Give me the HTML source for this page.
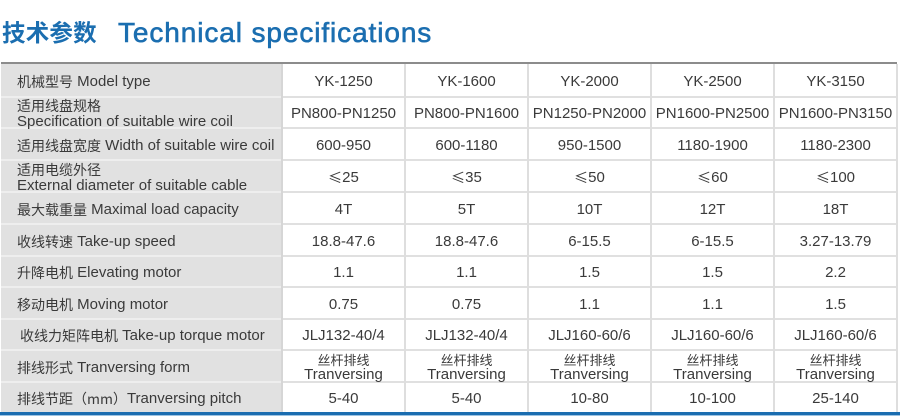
<!DOCTYPE html>
<html>
<head>
<meta charset="utf-8">
<style>
html,body{margin:0;padding:0;background:#fff;}
body{width:900px;height:418px;position:relative;overflow:hidden;font-family:"Liberation Sans","Noto Sans CJK SC",sans-serif;color:#3a3a3a;}
.t1{position:absolute;left:2px;top:15px;font-family:"Noto Sans CJK SC","WenQuanYi Zen Hei",sans-serif;font-weight:700;font-size:23.5px;line-height:32px;color:#1b6eb0;letter-spacing:0.2px;}
.t2{position:absolute;left:118px;top:16px;font-family:"Liberation Sans",sans-serif;font-size:28px;line-height:34px;color:#1b6eb0;letter-spacing:0.9px;-webkit-text-stroke:0.6px #1b6eb0;}
.topline{position:absolute;left:1px;width:896px;top:62px;height:2px;background:#8c8c8c;}
.lab{position:absolute;left:1px;top:64px;width:281px;height:348px;background:#e1e1e1;}
.bot{position:absolute;left:0;width:900px;top:412px;height:3px;background:#1b6db0;}
.bot2{position:absolute;left:0;width:900px;top:415px;height:1px;background:#9cc3e2;}
.hl{position:absolute;left:282px;width:615px;height:2px;background:#e0e0e0;}
.hll{position:absolute;left:1px;width:281px;height:2px;background:#eeeeee;}
.vl{position:absolute;top:64px;height:348px;width:2px;background:#dedede;}
.row{position:absolute;left:1px;width:896px;display:flex;}
.row>div{display:flex;align-items:center;justify-content:center;text-align:center;font-size:15px;line-height:14px;box-sizing:border-box;padding-top:3px;}
.row>div.l{width:281px;justify-content:flex-start;text-align:left;padding-left:16px;}
.row>div.d{width:123px;}
.c{font-family:"Noto Sans CJK SC","WenQuanYi Zen Hei",sans-serif;font-size:14px;vertical-align:1px;}
.cs{font-family:"Noto Sans CJK SC","WenQuanYi Zen Hei",sans-serif;font-size:13px;}
.le{font-family:"Noto Sans CJK SC",sans-serif;font-size:14px;}
</style>
</head>
<body>
<div class="t1">技术参数</div>
<div class="t2">Technical specifications</div>

<div class="topline"></div>
<div class="lab"></div>

<div class="hll" style="top:96px"></div><div class="hl" style="top:96px"></div>
<div class="hll" style="top:127px"></div><div class="hl" style="top:127px"></div>
<div class="hll" style="top:159px"></div><div class="hl" style="top:159px"></div>
<div class="hll" style="top:191px"></div><div class="hl" style="top:191px"></div>
<div class="hll" style="top:223px"></div><div class="hl" style="top:223px"></div>
<div class="hll" style="top:255px"></div><div class="hl" style="top:255px"></div>
<div class="hll" style="top:286px"></div><div class="hl" style="top:286px"></div>
<div class="hll" style="top:318px"></div><div class="hl" style="top:318px"></div>
<div class="hll" style="top:349px"></div><div class="hl" style="top:349px"></div>
<div class="hll" style="top:381px"></div><div class="hl" style="top:381px"></div>

<div class="vl" style="left:281px;background:#d6d6d6"></div>
<div class="vl" style="left:404px"></div>
<div class="vl" style="left:527px"></div>
<div class="vl" style="left:650px"></div>
<div class="vl" style="left:773px"></div>
<div class="vl" style="left:896px"></div>

<div class="bot"></div>
<div class="bot2"></div>

<div class="row" style="top:64px;height:33px">
  <div class="l"><span class="c">机械型号</span>&nbsp;Model type</div>
  <div class="d">YK-1250</div><div class="d">YK-1600</div><div class="d">YK-2000</div><div class="d">YK-2500</div><div class="d">YK-3150</div>
</div>

<div class="row" style="top:97px;height:31px">
  <div class="l"><div><span class="c">适用线盘规格</span><br>Specification of suitable wire coil</div></div>
  <div class="d">PN800-PN1250</div><div class="d">PN800-PN1600</div><div class="d">PN1250-PN2000</div><div class="d">PN1600-PN2500</div><div class="d">PN1600-PN3150</div>
</div>

<div class="row" style="top:128px;height:32px">
  <div class="l"><span class="c">适用线盘宽度</span>&nbsp;Width of suitable wire coil</div>
  <div class="d">600-950</div><div class="d">600-1180</div><div class="d">950-1500</div><div class="d">1180-1900</div><div class="d">1180-2300</div>
</div>

<div class="row" style="top:160px;height:32px">
  <div class="l"><div><span class="c">适用电缆外径</span><br>External diameter of suitable cable</div></div>
  <div class="d"><span class="le">≤</span>25</div><div class="d"><span class="le">≤</span>35</div><div class="d"><span class="le">≤</span>50</div><div class="d"><span class="le">≤</span>60</div><div class="d"><span class="le">≤</span>100</div>
</div>

<div class="row" style="top:192px;height:32px">
  <div class="l"><span class="c">最大载重量</span>&nbsp;Maximal load capacity</div>
  <div class="d">4T</div><div class="d">5T</div><div class="d">10T</div><div class="d">12T</div><div class="d">18T</div>
</div>

<div class="row" style="top:224px;height:32px">
  <div class="l"><span class="c">收线转速</span>&nbsp;Take-up speed</div>
  <div class="d">18.8-47.6</div><div class="d">18.8-47.6</div><div class="d">6-15.5</div><div class="d">6-15.5</div><div class="d">3.27-13.79</div>
</div>

<div class="row" style="top:256px;height:31px">
  <div class="l"><span class="c">升降电机</span>&nbsp;Elevating motor</div>
  <div class="d">1.1</div><div class="d">1.1</div><div class="d">1.5</div><div class="d">1.5</div><div class="d">2.2</div>
</div>

<div class="row" style="top:287px;height:32px">
  <div class="l"><span class="c">移动电机</span>&nbsp;Moving motor</div>
  <div class="d">0.75</div><div class="d">0.75</div><div class="d">1.1</div><div class="d">1.1</div><div class="d">1.5</div>
</div>

<div class="row" style="top:319px;height:31px">
  <div class="l" style="padding-left:19px"><span class="c">收线力矩阵电机</span>&nbsp;Take-up torque motor</div>
  <div class="d">JLJ132-40/4</div><div class="d">JLJ132-40/4</div><div class="d">JLJ160-60/6</div><div class="d">JLJ160-60/6</div><div class="d">JLJ160-60/6</div>
</div>

<div class="row" style="top:350px;height:32px">
  <div class="l"><span class="c">排线形式</span>&nbsp;Tranversing form</div>
  <div class="d"><div><span class="cs">丝杆排线</span><br>Tranversing</div></div>
  <div class="d"><div><span class="cs">丝杆排线</span><br>Tranversing</div></div>
  <div class="d"><div><span class="cs">丝杆排线</span><br>Tranversing</div></div>
  <div class="d"><div><span class="cs">丝杆排线</span><br>Tranversing</div></div>
  <div class="d"><div><span class="cs">丝杆排线</span><br>Tranversing</div></div>
</div>

<div class="row" style="top:382px;height:30px">
  <div class="l"><span class="c">排线节距（mm）</span>Tranversing pitch</div>
  <div class="d">5-40</div><div class="d">5-40</div><div class="d">10-80</div><div class="d">10-100</div><div class="d">25-140</div>
</div>

</body>
</html>
